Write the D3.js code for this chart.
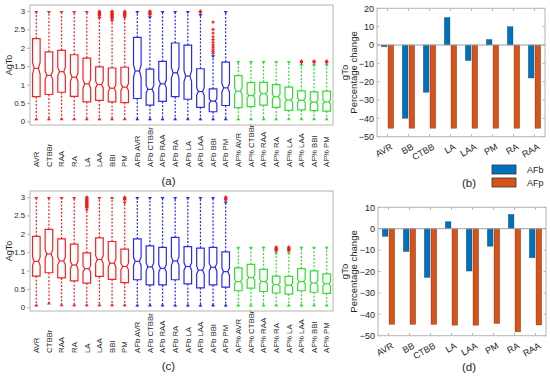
<!DOCTYPE html>
<html><head><meta charset="utf-8">
<script src="https://cdn.jsdelivr.net/npm/d3@7"></script>
<style>
body{margin:0;background:#fff}
svg{display:block}
text{font-family:"Liberation Sans",Arial,sans-serif;fill:#262626}
</style>
</head><body>
<svg id="c" width="550" height="377"></svg>
<script>
// ---------- DATA ----------
const boxCategories = ["AVR","CTBBr","RAA","RA","LA","LAA","BBI","PM",
  "AFb AVR","AFb CTBBr","AFb RAA","AFb RA","AFb LA","AFb LAA","AFb BBI","AFb PM",
  "AF% AVR","AF% CTBBr","AF% RAA","AF% RA","AF% LA","AF% LAA","AF% BBI","AF% PM"];
const boxTicks = [0,0.5,1,1.5,2,2.5,3];

// panel (a)
const aQ1  = [0.67,0.73,0.79,0.68,0.53,0.57,0.53,0.51, 0.62,0.44,0.54,0.67,0.60,0.38,0.26,0.43, 0.37,0.40,0.44,0.38,0.30,0.31,0.29,0.28];
const aMed = [1.44,1.25,1.35,1.20,1.02,1.00,0.90,0.93, 1.37,0.87,1.02,1.32,1.23,0.81,0.55,0.91, 0.82,0.70,0.75,0.67,0.58,0.57,0.52,0.53];
const aQ3  = [2.25,1.89,1.93,1.81,1.72,1.48,1.45,1.47, 2.28,1.42,1.63,2.13,2.07,1.43,0.88,1.61, 1.24,1.05,1.06,1.00,0.93,0.83,0.80,0.82];
const aLo  = [0.03,0.03,0.03,0.03,0.03,0.03,0.03,0.03, 0.03,0.03,0.03,0.03,0.03,0.03,0.03,0.03, 0.03,0.03,0.03,0.03,0.03,0.03,0.03,0.03];
const aHi  = [3,3,3,3,3,2.84,2.76,2.85, 3,2.86,3,3,3,2.92,1.80,3, 1.64,1.64,1.64,1.64,1.64,1.56,1.56,1.56];
const aOut = [[],[],[],[],[],[2.87,2.89,2.91,2.93,2.95,2.97,2.99],[2.79,2.81,2.83,2.85,2.87,2.89,2.91,2.93,2.95,2.97,2.99],[2.87,2.89,2.91,2.93,2.95,2.97,2.99],
  [],[2.9,2.92,2.94,2.96,2.98,3.0],[],[],[],[2.96,2.98,3.0],[1.85,1.9,1.96,2.02,2.08,2.15,2.22,2.3,2.4,2.5,2.7],[],
  [],[],[],[],[],[1.6,1.62,1.64],[1.6,1.62,1.64],[1.6,1.62,1.64]];

// panel (c)
const cQ1  = [0.85,0.94,0.80,0.72,0.66,0.84,0.76,0.67, 0.75,0.61,0.61,0.75,0.64,0.53,0.61,0.55, 0.45,0.52,0.43,0.39,0.36,0.45,0.41,0.38];
const cMed = [1.25,1.45,1.26,1.15,1.05,1.30,1.20,1.11, 1.25,1.10,1.06,1.26,1.11,1.01,1.09,0.97, 0.70,0.81,0.70,0.62,0.60,0.70,0.66,0.64];
const cQ3  = [1.93,2.12,1.86,1.72,1.48,1.89,1.79,1.58, 1.86,1.67,1.63,1.90,1.65,1.61,1.63,1.51, 1.07,1.17,1.03,0.85,0.84,1.05,0.99,0.91];
const cLo  = [0.02,0.08,0.03,0.03,0.03,0.03,0.03,0.03, 0.02,0.02,0.02,0.02,0.02,0.02,0.02,0.02, 0.02,0.02,0.02,0.02,0.02,0.02,0.02,0.02];
const cHi  = [3,3,3,3,2.68,3,3,2.88, 3,3,3,3,3,3,3,2.88, 1.65,1.65,1.65,1.5,1.5,1.65,1.65,1.65];
const cOut = [[],[],[],[],[2.72,2.74,2.76,2.78,2.8,2.82,2.84,2.86,2.88,2.9,2.92,2.94,2.96,2.98,3.0],[],[],[2.93,2.95,2.97,2.99],
  [],[],[],[],[],[],[],[2.92,2.94,2.96,2.98,3.0],
  [],[],[],[1.54,1.56,1.58,1.6,1.62,1.64],[1.54,1.56,1.58,1.6,1.62,1.64],[],[],[]];

// bar panels
const barCategories = ["AVR","BB","CTBB","LA","LAA","PM","RA","RAA"];
const barSeries = ["AFb","AFp"];
const bAFb = [-1,-40,-25.8,15,-8.5,3,10,-18];
const bAFp = [-45.4,-45.4,-45.4,-45.4,-45.4,-45.4,-45.4,-45.4];
const bTicks = [20,10,0,-10,-20,-30,-40,-50];
const dAFb = [-3.6,-10.7,-22.8,3.3,-19.8,-8.2,6.7,-13.6];
const dAFp = [-44.7,-44.7,-44.7,-45.1,-45.1,-44.3,-48.2,-45];
const dTicks = [10,0,-10,-20,-30,-40,-50];

// ---------- DRAW ----------
const svg = d3.select("#c");
const frameCol = "#b4b4b4";
const groupCol = i => i < 8 ? "#f52323" : (i < 16 ? "#2a2af5" : "#35dc35");
const outCol = "#f21b1b";

function boxPanel(cfg) {
  const {top, bottom, left, right, q1, med, q3, lo, hi, out, tag, tagY} = cfg;
  const x = d3.scaleBand().domain(boxCategories).range([left, right]);
  const y = d3.scaleLinear().domain([-0.1, 3.163]).range([bottom, top]);
  const g = svg.append("g");
  g.append("rect").attr("x", left).attr("y", top).attr("width", right - left).attr("height", bottom - top)
    .attr("fill", "none").attr("stroke", frameCol).attr("stroke-width", 1);
  const ax = g.append("g").attr("transform", `translate(${left},0)`)
    .call(d3.axisLeft(y).tickValues(boxTicks).tickSize(3).tickPadding(2).tickFormat(d3.format("")));
  ax.select(".domain").remove();
  ax.selectAll("line").attr("stroke", frameCol);
  ax.selectAll("text").style("font-size", "7.8px").attr("fill", "#262626");
  g.append("text").attr("transform", `translate(12,${(top + bottom) / 2}) rotate(-90)`)
    .attr("text-anchor", "middle").style("font-size", "9px").text("AgTo");
  const w = x.bandwidth() * 0.6;
  boxCategories.forEach((c, i) => {
    const cx = x(c) + x.bandwidth() / 2;
    const col = groupCol(i);
    const L = cx - w / 2, R = cx + w / 2;
    const n = Math.max(0.04, 0.1 * (q3[i] - q1[i]));
    const ind = w * 0.22;
    g.append("line").attr("x1", cx).attr("x2", cx).attr("y1", y(q3[i])).attr("y2", y(hi[i]))
      .attr("stroke", col).attr("stroke-width", 1.2).attr("stroke-dasharray", "2,1.6");
    g.append("line").attr("x1", cx).attr("x2", cx).attr("y1", y(q1[i])).attr("y2", y(lo[i]))
      .attr("stroke", col).attr("stroke-width", 1.2).attr("stroke-dasharray", "2,1.6");
    g.append("path").attr("d", `M${cx - 2},${y(hi[i])}L${cx + 2},${y(hi[i])}L${cx},${y(hi[i]) + 3}Z`).attr("fill", col);
    g.append("path").attr("d", `M${cx - 2},${y(lo[i])}L${cx + 2},${y(lo[i])}L${cx},${y(lo[i]) - 3}Z`).attr("fill", col);
    const p = `M${L},${y(q3[i])}L${R},${y(q3[i])}L${R},${y(med[i] + n)}L${R - ind},${y(med[i])}L${R},${y(med[i] - n)}L${R},${y(q1[i])}` +
      `L${L},${y(q1[i])}L${L},${y(med[i] - n)}L${L + ind},${y(med[i])}L${L},${y(med[i] + n)}Z`;
    g.append("path").attr("d", p).attr("fill", "none").attr("stroke", col).attr("stroke-width", 1.2);
    g.append("line").attr("x1", L + ind).attr("x2", R - ind).attr("y1", y(med[i])).attr("y2", y(med[i]))
      .attr("stroke", col).attr("stroke-width", 1.2);
    out[i].forEach(v => {
      g.append("path").attr("d", `M${cx - 1.6},${y(v)}H${cx + 1.6}M${cx},${y(v) - 1.6}V${y(v) + 1.6}`)
        .attr("stroke", outCol).attr("stroke-width", 1.2);
    });
    g.append("text").attr("transform", `translate(${cx},${bottom + 42}) rotate(-90)`)
      .attr("text-anchor", "start").attr("dy", "0.35em").style("font-size", "7.8px").text(c);
  });
  svg.append("text").attr("x", (left + right) / 2 - 13).attr("y", tagY).attr("text-anchor", "middle")
    .style("font-size", "11.5px").text(tag);
}

boxPanel({top: 5, bottom: 125, left: 30, right: 333, q1: aQ1, med: aMed, q3: aQ3, lo: aLo, hi: aHi, out: aOut, tag: "(a)", tagY: 185});
boxPanel({top: 191, bottom: 311, left: 30, right: 333, q1: cQ1, med: cMed, q3: cQ3, lo: cLo, hi: cHi, out: cOut, tag: "(c)", tagY: 370});

const barCol = {AFb: "#0072BD", AFp: "#D95319"};

function barPanel(cfg) {
  const {top, bottom, left, right, dom, ticks, afb, afp, tag, tagY} = cfg;
  const x0 = d3.scaleBand().domain(barCategories).range([left, right]).paddingInner(0.41).paddingOuter(0.205);
  const x1 = d3.scaleBand().domain(barSeries).range([0, x0.bandwidth()]).paddingInner(0.15);
  const y = d3.scaleLinear().domain(dom).range([bottom, top]);
  const g = svg.append("g");
  g.append("rect").attr("x", left).attr("y", top).attr("width", right - left).attr("height", bottom - top)
    .attr("fill", "#fff").attr("stroke", frameCol).attr("stroke-width", 1);
  ticks.forEach(t => {
    g.append("line").attr("x1", left).attr("x2", left + 2.5).attr("y1", y(t)).attr("y2", y(t)).attr("stroke", frameCol);
    g.append("line").attr("x1", right).attr("x2", right - 2.5).attr("y1", y(t)).attr("y2", y(t)).attr("stroke", frameCol);
  });
  barCategories.forEach(c => {
    const cx = x0(c) + x0.bandwidth() / 2;
    g.append("line").attr("x1", cx).attr("x2", cx).attr("y1", top).attr("y2", top + 2.5).attr("stroke", frameCol);
    g.append("line").attr("x1", cx).attr("x2", cx).attr("y1", bottom).attr("y2", bottom - 2.5).attr("stroke", frameCol);
  });
  const ax = g.append("g").attr("transform", `translate(${left},0)`)
    .call(d3.axisLeft(y).tickValues(ticks).tickSize(0).tickPadding(3));
  ax.select(".domain").remove();
  ax.selectAll("text").style("font-size", "9px").attr("fill", "#262626");
  const rows = [];
  barCategories.forEach((c, i) => { rows.push({c, s: "AFb", v: afb[i]}); rows.push({c, s: "AFp", v: afp[i]}); });
  g.selectAll("rect.bar").data(rows).enter().append("rect").attr("class", "bar")
    .attr("x", d => x0(d.c) + x1(d.s)).attr("width", x1.bandwidth())
    .attr("y", d => y(Math.max(0, d.v))).attr("height", d => Math.abs(y(d.v) - y(0)))
    .attr("fill", d => barCol[d.s]).attr("stroke", "rgba(40,40,40,0.45)").attr("stroke-width", 0.6);
  g.append("line").attr("x1", left).attr("x2", right).attr("y1", y(0)).attr("y2", y(0))
    .attr("stroke", "#a0a0a0").attr("stroke-width", 1);
  barCategories.forEach(c => {
    const cx = x0(c) + x0.bandwidth() / 2;
    g.append("text").attr("transform", `translate(${cx + 3},${bottom + 7}) rotate(-30)`)
      .attr("text-anchor", "end").attr("dy", "0.6em").style("font-size", "9px").text(c);
  });
  const my = (top + bottom) / 2;
  g.append("text").attr("transform", `translate(345,${my}) rotate(-90)`).attr("text-anchor", "middle")
    .attr("dy", "0.35em").style("font-size", "9.5px").text("gTo");
  g.append("text").attr("transform", `translate(354,${my}) rotate(-90)`).attr("text-anchor", "middle")
    .attr("dy", "0.35em").style("font-size", "9.5px").text("Percentage change");
  svg.append("text").attr("x", 469).attr("y", tagY).attr("text-anchor", "middle").style("font-size", "11.5px").text(tag);
}

barPanel({top: 8.3, bottom: 136.7, left: 377, right: 545, dom: [-50, 20], ticks: bTicks, afb: bAFb, afp: bAFp, tag: "(b)", tagY: 187});
barPanel({top: 207.3, bottom: 335.7, left: 378, right: 546, dom: [-50, 10], ticks: dTicks, afb: dAFb, afp: dAFp, tag: "(d)", tagY: 371});

const leg = svg.append("g");
barSeries.forEach((s, i) => {
  leg.append("rect").attr("x", 492).attr("y", 165 + i * 13).attr("width", 24).attr("height", 9)
    .attr("fill", barCol[s]).attr("stroke", "#333").attr("stroke-width", 0.8);
  leg.append("text").attr("x", 527).attr("y", 169.5 + i * 13).attr("dy", "0.35em").style("font-size", "9px").text(s);
});
</script>
</body></html>
